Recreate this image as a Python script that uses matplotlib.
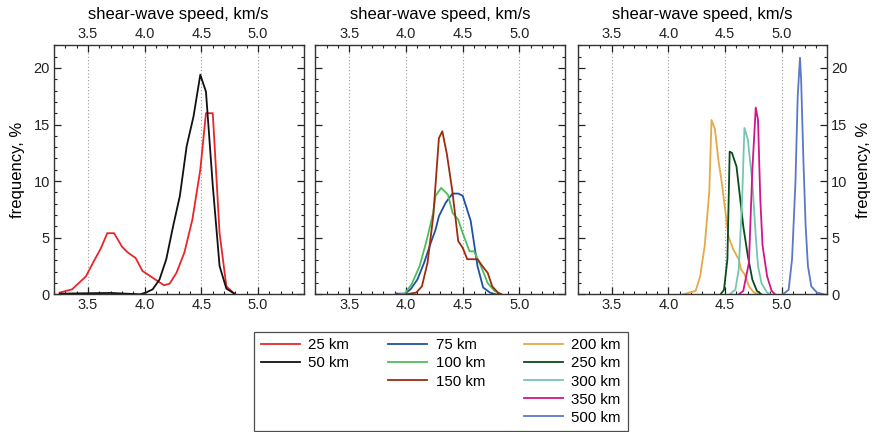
import matplotlib.pyplot as plt
from matplotlib.lines import Line2D
from matplotlib.ticker import MultipleLocator

plt.rcParams['font.family'] = ['Liberation Sans', 'DejaVu Sans']

# ---- data (speed km/s, frequency %) ----
x25 = [3.25, 3.36, 3.43, 3.48, 3.55, 3.61, 3.67, 3.73, 3.80, 3.85, 3.92, 3.98, 4.05, 4.10,
       4.17, 4.22, 4.28, 4.35, 4.42, 4.49, 4.54, 4.60, 4.66, 4.72, 4.79]
y25 = [0.15, 0.44, 1.1, 1.56, 2.9, 4.0, 5.4, 5.4, 4.2, 3.7, 3.2, 2.06, 1.6, 1.26,
       0.8, 0.94, 1.9, 3.7, 6.6, 11.0, 16.0, 16.0, 5.4, 0.7, 0.06]

x50 = [3.25, 3.40, 3.55, 3.70, 3.85, 3.96, 4.01, 4.07, 4.13, 4.19, 4.25, 4.31, 4.37, 4.43,
       4.49, 4.54, 4.60, 4.66, 4.72, 4.79]
y50 = [0.05, 0.08, 0.1, 0.12, 0.05, 0.0, 0.15, 0.44, 1.3, 3.1, 6.0, 8.7, 13.1, 15.7,
       19.4, 17.9, 9.6, 2.5, 0.5, 0.06]

x75 = [3.91, 3.99, 4.04, 4.10, 4.16, 4.22, 4.26, 4.29, 4.35, 4.41, 4.46, 4.50, 4.57, 4.63,
       4.68, 4.74, 4.79]
y75 = [0.06, 0.06, 0.44, 1.3, 2.8, 4.6, 5.7, 6.9, 8.1, 8.9, 8.9, 8.7, 6.5, 2.5,
       0.6, 0.15, 0.0]

x100 = [3.94, 3.99, 4.05, 4.12, 4.18, 4.24, 4.26, 4.31, 4.37, 4.41, 4.46, 4.50, 4.56, 4.60,
        4.66, 4.72, 4.78, 4.84]
y100 = [0.0, 0.06, 0.9, 2.5, 4.7, 7.2, 8.7, 9.4, 8.8, 7.2, 6.6, 5.4, 3.8, 3.8,
        2.5, 1.0, 0.3, 0.0]

x150 = [4.00, 4.09, 4.14, 4.19, 4.24, 4.29, 4.32, 4.36, 4.41, 4.46, 4.50, 4.54, 4.63, 4.68,
        4.72, 4.76, 4.81, 4.84]
y150 = [0.0, 0.15, 0.7, 2.8, 6.9, 13.8, 14.4, 12.4, 9.0, 4.7, 4.1, 3.1, 3.1, 2.4,
        1.9, 0.7, 0.15, 0.0]

x200 = [4.13, 4.24, 4.28, 4.32, 4.36, 4.38, 4.41, 4.44, 4.47, 4.50, 4.53, 4.57, 4.62, 4.64,
        4.67, 4.71, 4.75, 4.79]
y200 = [0.0, 0.3, 1.6, 4.3, 9.0, 15.4, 14.6, 11.9, 9.9, 7.5, 5.1, 4.0, 3.1, 2.2,
        1.8, 0.7, 0.2, 0.0]

x250 = [4.46, 4.49, 4.52, 4.54, 4.56, 4.60, 4.63, 4.66, 4.70, 4.74, 4.78, 4.82]
y250 = [0.0, 0.4, 3.1, 12.6, 12.5, 11.3, 8.7, 6.0, 3.4, 1.3, 0.3, 0.0]

x300 = [4.54, 4.59, 4.62, 4.65, 4.67, 4.70, 4.74, 4.77, 4.79, 4.82, 4.87, 4.90]
y300 = [0.0, 0.4, 2.2, 8.4, 14.7, 13.7, 9.9, 5.1, 2.5, 1.0, 0.15, 0.0]

x350 = [4.62, 4.66, 4.71, 4.74, 4.77, 4.79, 4.81, 4.83, 4.87, 4.91, 4.94]
y350 = [0.0, 0.3, 2.8, 11.0, 16.5, 15.4, 8.4, 4.3, 1.6, 0.3, 0.0]

x500 = [5.01, 5.06, 5.09, 5.12, 5.14, 5.16, 5.17, 5.19, 5.21, 5.23, 5.26, 5.31, 5.37]
y500 = [0.0, 0.4, 3.1, 9.9, 17.5, 20.9, 19.0, 11.9, 6.0, 2.5, 0.7, 0.15, 0.0]

panels = [
    [("25 km", x25, y25, "#e8262a"), ("50 km", x50, y50, "#111111")],
    [("75 km", x75, y75, "#1f4fa6"), ("100 km", x100, y100, "#4dbd5c"),
     ("150 km", x150, y150, "#9c2c10")],
    [("200 km", x200, y200, "#e6a945"), ("250 km", x250, y250, "#0b4a1c"),
     ("300 km", x300, y300, "#74c6b3"), ("350 km", x350, y350, "#d4148c"),
     ("500 km", x500, y500, "#5b78c6")],
]

fig = plt.figure(figsize=(8.78, 4.32), dpi=100)
lefts = [54/878, 315.3/878, 577.7/878]
w = 249.5/878
b = (432-294.3)/432
h = 249/432

axes = []
for i, left in enumerate(lefts):
    ax = fig.add_axes([left, b, w, h])
    for name, xs, ys, c in panels[i]:
        ax.plot(xs, ys, color=c, lw=1.3, label=name)
    ax.set_xlim(3.2, 5.4)
    ax.set_ylim(0, 22)
    ax.xaxis.set_major_locator(MultipleLocator(0.5))
    ax.xaxis.set_minor_locator(MultipleLocator(0.1))
    ax.yaxis.set_major_locator(MultipleLocator(5))
    ax.yaxis.set_minor_locator(MultipleLocator(1))
    ax.set_xticks([3.5, 4.0, 4.5, 5.0])
    ax.set_xticklabels(["3.5", "4.0", "4.5", "5.0"])
    for xv in [3.5, 4.0, 4.5, 5.0]:
        ax.axvline(xv, color="#999999", lw=0.8, ls=(0, (1, 2)), zorder=0)
    ax.tick_params(which="both", direction="in", top=True, bottom=True, left=True, right=True,
                   labeltop=True, labelbottom=True, labelleft=(i == 0), labelright=(i == 2),
                   labelsize=10.5, colors="#222222", pad=3)
    ax.tick_params(which="major", length=5, width=0.9)
    ax.tick_params(which="minor", length=2.5, width=0.8)
    for s in ax.spines.values():
        s.set_color("#333333")
        s.set_linewidth(1.0)
    ax.xaxis.set_label_position("top")
    ax.set_xlabel("shear-wave speed, km/s", fontsize=12, labelpad=6)
    axes.append(ax)

axes[0].set_ylabel("frequency, %", fontsize=12, labelpad=6)
axes[2].yaxis.set_label_position("right")
axes[2].set_ylabel("frequency, %", fontsize=12, labelpad=6)

# legend: three columns, padded with blank entries
blank = Line2D([], [], color="none")
handles, labels = [], []
for grp in panels:
    for name, xs, ys, c in grp:
        handles.append(Line2D([], [], color=c, lw=1.3))
        labels.append(name)
    for _ in range(5 - len(grp)):
        handles.append(blank)
        labels.append("")
leg = fig.legend(handles, labels, ncol=3, loc="center", bbox_to_anchor=(441/878, 1-381.5/432),
                 fontsize=10.8, frameon=True, fancybox=False, edgecolor="#222222",
                 handlelength=2.6, handletextpad=0.55, columnspacing=2.6, labelspacing=0.27,
                 borderpad=0.45, borderaxespad=0)
leg.get_frame().set_linewidth(0.9)

fig.savefig("out.png", dpi=100)
